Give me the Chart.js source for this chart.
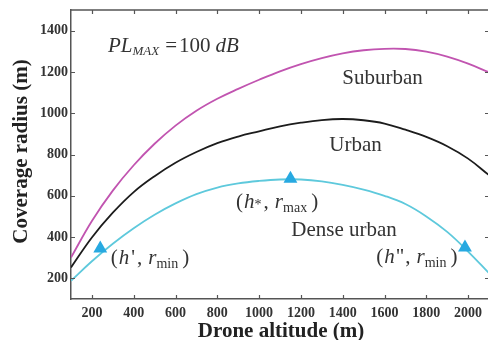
<!DOCTYPE html>
<html>
<head>
<meta charset="utf-8">
<script src="https://cdn.jsdelivr.net/npm/chart.js@4/dist/chart.umd.min.js"></script>
<style>
html,body{margin:0;padding:0;background:#fff;overflow:hidden;}
#wrap{width:490px;height:340px;}
</style>
</head>
<body>
<div id="wrap"><canvas id="c" width="490" height="340"></canvas></div>
<script>
// ---- data ----
const altitude = [100,200,300,400,500,600,700,800,900,1000,1100,1200,1300,1400,1500,1600,1700,1800,1900,2000,2100];
const suburban = [301,478,625,748,852,940,1012,1070,1118,1162,1203,1238,1267,1290,1305,1312,1311,1298,1274,1240,1198];
const urban    = [253,398,518,618,695,760,812,855,887,912,936,954,967,972,966,950,920,885,840,780,700];
const dense    = [188,283,368,443,508,563,608,640,660,672,679,679,670,653,630,600,560,500,425,330,225];
const markerX  = [240,1150,1985];
const markerY  = [345,683,350];
const xTicks   = [200,400,600,800,1000,1200,1400,1600,1800,2000];
const yTicks   = [200,400,600,800,1000,1200,1400];

const toPts = (xs, ys) => xs.map((x, i) => ({x: x, y: ys[i]}));

const SERIF = '"Liberation Serif","Times New Roman",serif';
const R  = '21px ' + SERIF;
const I  = 'italic 21px ' + SERIF;
const S  = '14px ' + SERIF;
const SI = 'italic 13px ' + SERIF;

// text annotations in data coordinates
const notes = [
  {x: 277, y: 1297, parts: [
    {t:'PL', f:I}, {t:'MAX', f:SI, dy:3, g:6}, {t:'=', f:R, g:2}, {t:'100', f:R, g:5}, {t:'dB', f:I}]},
  {x: 1398, y: 1142, parts: [{t:'Suburban', f:R}]},
  {x: 1336, y: 816,  parts: [{t:'Urban', f:R}]},
  {x: 1154, y: 406,  parts: [{t:'Dense urban', f:R}]},
  {x: 290, y: 268, parts: [
    {t:'(', f:R, g:1}, {t:'h', f:I, g:2}, {t:"'", f:R, g:2}, {t:',', f:R, g:6}, {t:'r', f:I, g:0}, {t:'min', f:S, dy:4, g:4}, {t:')', f:R}]},
  {x: 890, y: 540, parts: [
    {t:'(', f:R, g:1}, {t:'h', f:I, g:0}, {t:'*', f:S, dy:1, g:2}, {t:',', f:R, g:6}, {t:'r', f:I, g:0}, {t:'max', f:S, dy:4, g:4}, {t:')', f:R}]},
  {x: 1560, y: 272, parts: [
    {t:'(', f:R, g:1}, {t:'h', f:I, g:1}, {t:'"', f:R, g:1}, {t:',', f:R, g:6}, {t:'r', f:I, g:0}, {t:'min', f:S, dy:4, g:4}, {t:')', f:R}]}
];

const framePlugin = {
  id: 'frame',
  afterDraw(chart) {
    const {ctx, chartArea: a, scales: {x, y}} = chart;
    ctx.save();
    ctx.strokeStyle = '#555';
    ctx.lineWidth = 1.2;
    ctx.beginPath();
    x.ticks.forEach(t => {
      const px = Math.round(x.getPixelForValue(t.value)) + 0.5;
      ctx.moveTo(px, a.bottom); ctx.lineTo(px, a.bottom - 4);
      ctx.moveTo(px, a.top); ctx.lineTo(px, a.top + 4);
    });
    y.ticks.forEach(t => {
      const py = Math.round(y.getPixelForValue(t.value)) + 0.5;
      ctx.moveTo(a.left, py); ctx.lineTo(a.left + 4, py);
      ctx.moveTo(a.right, py); ctx.lineTo(a.right - 4, py);
    });
    ctx.stroke();
    ctx.lineWidth = 1.5;
    ctx.beginPath();
    ctx.moveTo(a.left, a.top); ctx.lineTo(a.right, a.top);
    ctx.moveTo(a.right, a.top); ctx.lineTo(a.right, a.bottom);
    ctx.stroke();

    // annotations
    ctx.fillStyle = '#333';
    ctx.textBaseline = 'alphabetic';
    ctx.textAlign = 'left';
    notes.forEach(n => {
      let cx = x.getPixelForValue(n.x);
      const by = y.getPixelForValue(n.y);
      n.parts.forEach(p => {
        ctx.font = p.f;
        ctx.fillText(p.t, cx, by + (p.dy || 0));
        cx += ctx.measureText(p.t).width + (p.g || 0);
      });
    });

    // axis titles
    ctx.fillStyle = '#222';
    ctx.font = 'bold 21px ' + SERIF;
    ctx.textAlign = 'center';
    ctx.fillText('Drone altitude (m)', (a.left + a.right) / 2 + 1, 337);
    ctx.save();
    ctx.translate(27, (a.top + a.bottom) / 2 - 3);
    ctx.rotate(-Math.PI / 2);
    ctx.fillText('Coverage radius (m)', 0, 0);
    ctx.restore();
    ctx.restore();
  }
};

const tickFont = {family: SERIF, size: 14, weight: 'bold'};
const plain = v => String(v);

new Chart(document.getElementById('c'), {
  type: 'line',
  data: {
    datasets: [
      {data: toPts(markerX, markerY), type: 'scatter', showLine: false, pointStyle: 'triangle',
       pointRadius: 8, backgroundColor: '#27a9e1', borderColor: '#27a9e1', borderWidth: 0, order: 0},
      {data: toPts(altitude, suburban), borderColor: '#c154b0', borderWidth: 1.8, pointRadius: 0,
       tension: 0.4, fill: false, order: 1},
      {data: toPts(altitude, urban), borderColor: '#1c1c1c', borderWidth: 1.8, pointRadius: 0,
       tension: 0.4, fill: false, order: 1},
      {data: toPts(altitude, dense), borderColor: '#5ec9dc', borderWidth: 1.8, pointRadius: 0,
       tension: 0.4, fill: false, order: 1}
    ]
  },
  options: {
    responsive: false,
    animation: false,
    devicePixelRatio: 1,
    layout: {autoPadding: false, padding: {top: 10, right: 1, left: 0, bottom: 0}},
    plugins: {legend: {display: false}, tooltip: {enabled: false}},
    scales: {
      x: {
        type: 'linear', min: 100, max: 2100,
        afterBuildTicks: s => { s.ticks = xTicks.map(v => ({value: v})); },
        afterFit: s => { s.height = 41; s.paddingLeft = 0; s.paddingRight = 0; },
        grid: {display: false, drawTicks: false},
        border: {display: true, color: '#555', width: 1.5},
        ticks: {font: tickFont, color: '#333', padding: 6, maxRotation: 0, autoSkip: false, callback: plain}
      },
      y: {
        type: 'linear', min: 100, max: 1500,
        afterBuildTicks: s => { s.ticks = yTicks.map(v => ({value: v})); },
        afterFit: s => { s.width = 71; s.paddingTop = 0; s.paddingBottom = 0; },
        grid: {display: false, drawTicks: false},
        border: {display: true, color: '#555', width: 1.5},
        ticks: {font: tickFont, color: '#333', padding: 3, autoSkip: false, callback: plain}
      }
    }
  },
  plugins: [framePlugin]
});
</script>
</body>
</html>
